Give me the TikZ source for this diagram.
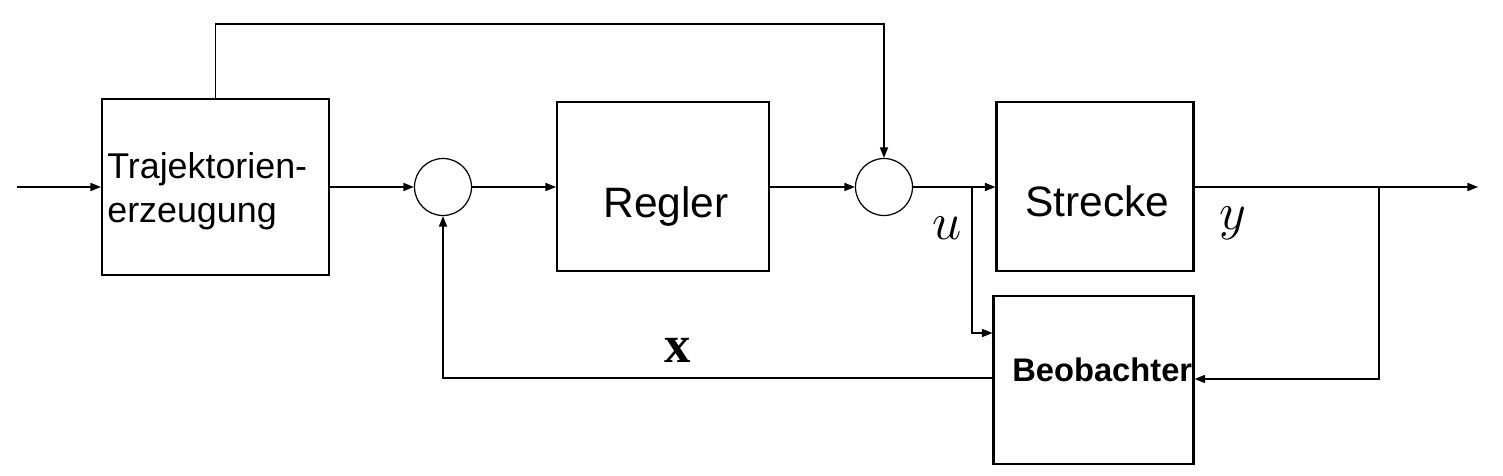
\documentclass[tikz,border=0pt]{standalone}
\usepackage{fontspec}
\setmainfont{Liberation Sans}
\newfontfamily\tms{Liberation Serif}
\usetikzlibrary{arrows.meta}
\tikzset{
  blk/.style={draw, line width=1.2pt, inner sep=0pt},
  sumc/.style={draw, circle, line width=0.7pt, inner sep=0pt, minimum size=1.14cm},
  conn/.style={line width=0.8pt, -{Triangle[length=6pt,width=4.6pt]}},
  txt/.style={inner sep=0pt, anchor=base west},
  lbl/.style={inner sep=0pt, anchor=center},
}
\begin{document}
\begin{tikzpicture}[x=0.02cm,y=-0.02cm]
\useasboundingbox (0,0) rectangle (1503,476);
% blocks
\node[blk, minimum width=4.54cm, minimum height=3.52cm] (traj) at (215.5,187) {};
\node[blk, minimum width=4.24cm, minimum height=3.38cm] (reg) at (663,186.5) {};
\node[blk, minimum width=3.94cm, minimum height=3.38cm] (str) at (1095,186.5) {};
\node[blk, minimum width=4.0cm, minimum height=3.36cm] (obs) at (1093.5,380) {};
\node[sumc] (c1) at (443,187) {};
\node[sumc] (c2) at (884,187) {};
% texts
\node[txt] (t1) at (107,179) {\fontsize{20.4}{24}\selectfont Trajektorien-};
\node[txt] (t2) at (107,222) {\fontsize{20.4}{24}\selectfont erzeugung};
\node[txt] (t3) at (603,217) {\fontsize{24.2}{28}\selectfont Regler};
\node[txt] (t4) at (1025,216) {\fontsize{24.2}{28}\selectfont Strecke};
\node[txt] (t5) at (1012,381) {\fontsize{18.6}{22}\selectfont\bfseries Beobachter};
\node[lbl] (lu) at (947,228) {\fontsize{24.88}{28}\selectfont\scalebox{1.2}{$u$}};
\node[lbl] (ly) at (1233,223) {\fontsize{24.88}{28}\selectfont\scalebox{1.2}{$y$}};
\node[lbl] (lx) at (678,350) {\fontsize{30}{32}\selectfont\tms\bfseries x};
% coordinates
\coordinate (in) at (17,187);
\coordinate (top) at (884,24);
\coordinate (ub) at (972,187);
\coordinate (yb) at (1379,187);
\coordinate (out) at (1478,187);
% connectors
\draw[conn] (in) -- (traj.west);
\draw[conn] (traj.east) -- (c1.west);
\draw[conn] (c1.east) -- (reg.west |- c1.east);
\draw[conn] (reg.east |- c2.west) -- (c2.west);
\draw[conn] (c2.east) -- (str.west |- c2.east);
\draw[conn] (traj.north) |- (top) -- (c2.north);
\draw[conn] (ub) |- ([yshift=0.94cm]obs.west);
\draw[conn] (str.east |- out) -- (out);
\draw[conn] (yb) |- ([yshift=0.02cm]obs.east);
\draw[conn] ([yshift=0.04cm]obs.west) -| (c1.south);
\end{tikzpicture}
\end{document}
